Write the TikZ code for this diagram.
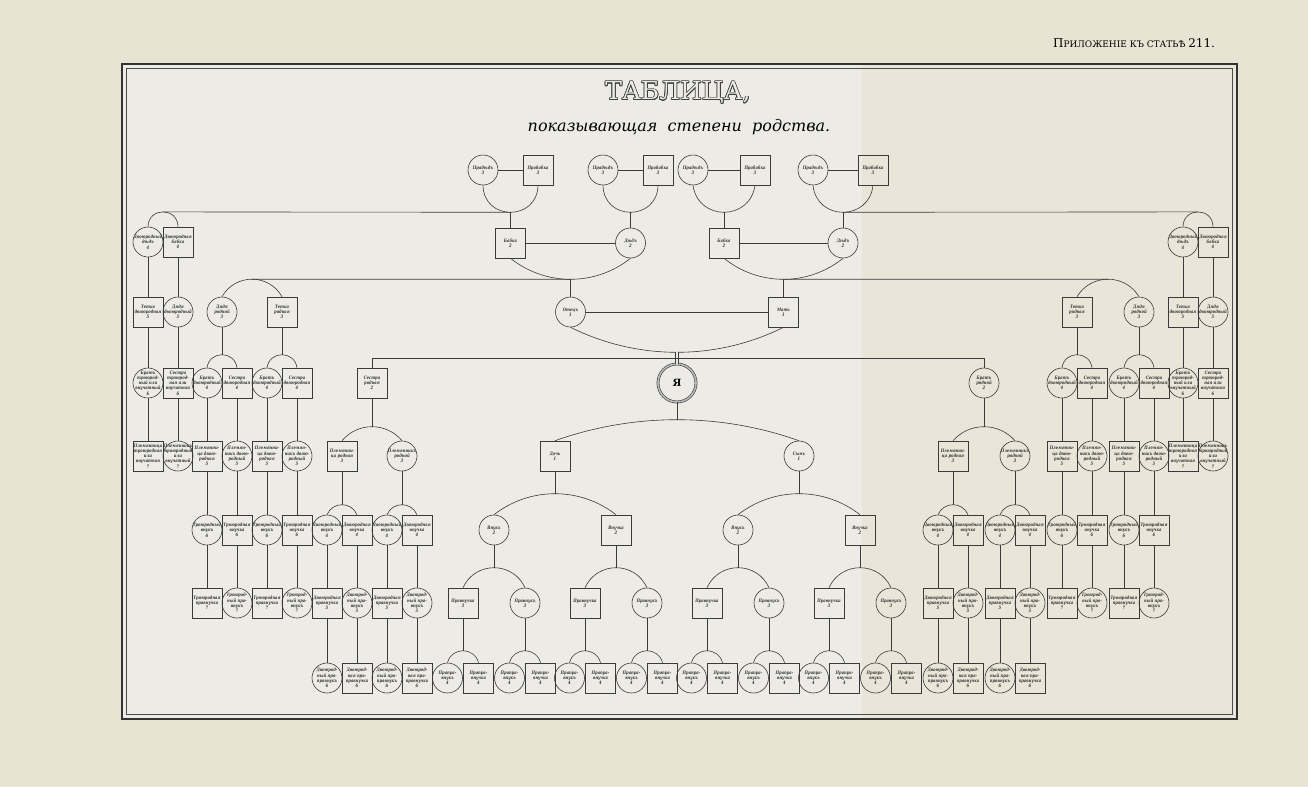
\documentclass[tikz,border=0pt]{standalone}
\usepackage{fontspec}
\setmainfont{DejaVu Serif}
\newfontfamily\kinfam{DejaVu Serif}[FakeStretch=0.8]
\usepackage{tikz}
\usetikzlibrary{calc}
\usepackage{contour}
\contourlength{0.7pt}
\usepackage{xcolor}
\definecolor{paper}{HTML}{E9E3D3}
\definecolor{sheet}{HTML}{ECEBE5}
\definecolor{fold}{HTML}{E9E5D8}
\definecolor{ink}{HTML}{3A3A3A}
\newcommand{\kinfont}{\kinfam\bfseries\itshape\fontsize{4.6}{5.2}\selectfont}

% дуга над двумя узлами, вершина (#4) на высоте #3
\newcommand{\domeup}[4]{%
  \draw[link] let \p1=(#1.north), \p2=(#2.north),
      \n1={veclen(\x2-\x1,\y2-\y1)}, \n2={4*#3/3},
      \n3={\n2*cot(2*atan(2*#3/\n1))} in
    (\p1) .. controls +(\n3,\n2) and +(-\n3,\n2) .. (\p2);
  \coordinate (#4) at ($(#1.north)!0.5!(#2.north)+(0,#3)$);}
% дуга под двумя узлами
\newcommand{\domedown}[4]{%
  \draw[link] let \p1=(#1.south), \p2=(#2.south),
      \n1={veclen(\x2-\x1,\y2-\y1)}, \n2={4*#3/3},
      \n3={\n2*cot(2*atan(2*#3/\n1))} in
    (\p1) .. controls +(\n3,-\n2) and +(-\n3,-\n2) .. (\p2);
  \coordinate (#4) at ($(#1.south)!0.5!(#2.south)-(0,#3)$);}

\begin{document}
\begin{tikzpicture}[x=1pt,y=1pt,
        pm/.style={circle,draw=ink,line width=0.6pt,minimum size=30pt,inner sep=-3pt,align=center,text=black!80,font=\kinfont},
        pf/.style={rectangle,draw=ink,line width=0.6pt,minimum size=30pt,inner sep=0.5pt,align=center,text=black!80,font=\kinfont},
        me/.style={circle,draw=black!75,double=gray!55,double distance=1.6pt,line width=0.6pt,minimum size=38pt,inner sep=0pt,font=\bfseries\fontsize{10}{10}\selectfont},
        link/.style={draw=ink,line width=0.6pt},
        ]

        % Лист и рамка
        \fill[paper] (0,0) rectangle (1308,-787);
        \useasboundingbox (0,0) rectangle (1308,-787);
        \fill[sheet] (122,-64) rectangle (1237,-719);
        \fill[fold] (862,-64) rectangle (1237,-719);
        \draw[line width=2.6pt,draw=black!80] (122,-64) rectangle (1237,-719);
        \draw[line width=0.5pt,draw=black!70] (126.5,-68.5) rectangle (1232.5,-714.5);

        % Заглавие
        \node (app) at (1134,-43) {\fontsize{12}{12}\selectfont П\fontsize{9}{9}\selectfont РИЛОЖЕНІЕ КЪ СТАТЬѢ \fontsize{12}{12}\selectfont 211.};
        \node (title) at (678,-93) {\fontsize{25}{25}\selectfont\color{sheet}\contour{black!75}{ТАБЛИЦА,}};
        \node (subtitle) at (679,-127) {\itshape\fontsize{16}{16}\selectfont показывающая\ \ степени\ \ родства.};

        % Прадѣды
        \node[pm] (ggf1) at (483,-170) {Прадѣдъ\\3};
        \node[pf] (ggm1) at (538,-170) {Прабабка\\3};
        \node[pm] (ggf2) at (603,-170) {Прадѣдъ\\3};
        \node[pf] (ggm2) at (658,-170) {Прабабка\\3};
        \node[pm] (ggf3) at (693,-170) {Прадѣдъ\\3};
        \node[pf] (ggm3) at (755,-170) {Прабабка\\3};
        \node[pm] (ggf4) at (813,-170) {Прадѣдъ\\3};
        \node[pf] (ggm4) at (873,-170) {Прабабка\\3};

        % Дѣды
        \node[pf] (gm1) at (510.5,-243) {Бабка\\2};
        \node[pm] (gf1) at (630.5,-243) {Дѣдъ\\2};
        \node[pf] (gm2) at (724,-243) {Бабка\\2};
        \node[pm] (gf2) at (843,-243) {Дѣдъ\\2};

        % Родители и я
        \node[pm] (father) at (570.5,-312) {Отецъ\\1};
        \node[pf] (mother) at (783.5,-312) {Мать\\1};
        \node[me] (me) at (677,-383) {Я};

        % Лѣвая сторона: двоюродные дѣды
        \node[pm] (gu1) at (148,-242) {Двоюродный\\дѣдъ\\4};
        \node[pf] (ga1) at (178,-242) {Двоюродная\\бабка\\4};
        \node[pf] (au2) at (148,-312) {Тетка\\двоюродная\\5};
        \node[pm] (un2) at (178,-312) {Дядя\\двоюродный\\5};
        \node[pm] (br3) at (148,-383) {Братъ\\троюрод-\\ный или\\внучатный\\6};
        \node[pf] (si3) at (178,-383) {Сестра\\троюрод-\\ная или\\внучатная\\6};
        \node[pf] (nf3) at (148,-456) {Племянница\\троюродная\\или\\внучатная\\7};
        \node[pm] (nm3) at (178,-456) {Племянникъ\\троюродный\\или\\внучатный\\7};

        % Лѣвая сторона: дядя и тетка родные
        \node[pm] (un1) at (222,-312) {Дядя\\родной\\3};
        \node[pf] (au1) at (282,-312) {Тетка\\родная\\3};
        \node[pm] (cb1) at (207,-383) {Братъ\\двоюродный\\4};
        \node[pf] (cs1) at (237,-383) {Сестра\\двоюродная\\4};
        \node[pm] (cb2) at (267,-383) {Братъ\\двоюродный\\4};
        \node[pf] (cs2) at (297,-383) {Сестра\\двоюродная\\4};
        \node[pf] (nf1) at (207,-456) {Племянни-\\ца двою-\\родная\\5};
        \node[pm] (nm1) at (237,-456) {Племян-\\никъ двою-\\родный\\5};
        \node[pf] (nf2) at (267,-456) {Племянни-\\ца двою-\\родная\\5};
        \node[pm] (nm2) at (297,-456) {Племян-\\никъ двою-\\родный\\5};
        \node[pm] (gb1) at (207,-530) {Троюродный\\внукъ\\6};
        \node[pf] (gs1) at (237,-530) {Троюродная\\внучка\\6};
        \node[pm] (gb2) at (267,-530) {Троюродный\\внукъ\\6};
        \node[pf] (gs2) at (297,-530) {Троюродная\\внучка\\6};
        \node[pf] (tpf1) at (207,-603) {Троюродная\\правнучка\\7};
        \node[pm] (tpm1) at (237,-603) {Троюрод-\\ный пра-\\внукъ\\7};
        \node[pf] (tpf2) at (267,-603) {Троюродная\\правнучка\\7};
        \node[pm] (tpm2) at (297,-603) {Троюрод-\\ный пра-\\внукъ\\7};

        % Сестра родная
        \node[pf] (sis) at (372,-383) {Сестра\\родная\\2};
        \node[pf] (snf) at (342,-456) {Племянни-\\ца родная\\3};
        \node[pm] (snm) at (402,-456) {Племянникъ\\родной\\3};
        \node[pm] (sgb1) at (327,-530) {Двоюродный\\внукъ\\4};
        \node[pf] (sgs1) at (357,-530) {Двоюродная\\внучка\\4};
        \node[pm] (sgb2) at (387,-530) {Двоюродный\\внукъ\\4};
        \node[pf] (sgs2) at (417,-530) {Двоюродная\\внучка\\4};
        \node[pf] (spf1) at (327,-603) {Двоюродная\\правнучка\\5};
        \node[pm] (spm1) at (357,-603) {Двоюрод-\\ный пра-\\внукъ\\5};
        \node[pf] (spf2) at (387,-603) {Двоюродная\\правнучка\\5};
        \node[pm] (spm2) at (417,-603) {Двоюрод-\\ный пра-\\внукъ\\5};
        \node[pm] (sqb1) at (327,-678) {Двоюрод-\\ный пра-\\правнукъ\\6};
        \node[pf] (sqs1) at (357,-678) {Двоюрод-\\ная пра-\\правнучка\\6};
        \node[pm] (sqb2) at (387,-678) {Двоюрод-\\ный пра-\\правнукъ\\6};
        \node[pf] (sqs2) at (417,-678) {Двоюрод-\\ная пра-\\правнучка\\6};

        % Дѣти
        \node[pf] (daughter) at (555,-456) {Дочь\\1};
        \node[pm] (son) at (799,-456) {Сынъ\\1};
        \node[pm] (vnuk1) at (494,-530) {Внукъ\\2};
        \node[pf] (vnuchka1) at (616,-530) {Внучка\\2};
        \node[pm] (vnuk2) at (738,-530) {Внукъ\\2};
        \node[pf] (vnuchka2) at (860,-530) {Внучка\\2};
        \node[pf] (pv1) at (463,-603) {Правнучка\\3};
        \node[pm] (pv2) at (525,-603) {Правнукъ\\3};
        \node[pf] (pv3) at (585,-603) {Правнучка\\3};
        \node[pm] (pv4) at (647,-603) {Правнукъ\\3};
        \node[pf] (pv5) at (707,-603) {Правнучка\\3};
        \node[pm] (pv6) at (769,-603) {Правнукъ\\3};
        \node[pf] (pv7) at (829,-603) {Правнучка\\3};
        \node[pm] (pv8) at (891,-603) {Правнукъ\\3};
        \node[pm] (ppm1) at (447.5,-678) {Прапра-\\внукъ\\4};
        \node[pf] (ppf1) at (478.5,-678) {Прапра-\\внучка\\4};
        \node[pm] (ppm2) at (509.5,-678) {Прапра-\\внукъ\\4};
        \node[pf] (ppf2) at (540.5,-678) {Прапра-\\внучка\\4};
        \node[pm] (ppm3) at (569.5,-678) {Прапра-\\внукъ\\4};
        \node[pf] (ppf3) at (600.5,-678) {Прапра-\\внучка\\4};
        \node[pm] (ppm4) at (631.5,-678) {Прапра-\\внукъ\\4};
        \node[pf] (ppf4) at (662.5,-678) {Прапра-\\внучка\\4};
        \node[pm] (ppm5) at (691.5,-678) {Прапра-\\внукъ\\4};
        \node[pf] (ppf5) at (722.5,-678) {Прапра-\\внучка\\4};
        \node[pm] (ppm6) at (753.5,-678) {Прапра-\\внукъ\\4};
        \node[pf] (ppf6) at (784.5,-678) {Прапра-\\внучка\\4};
        \node[pm] (ppm7) at (813.5,-678) {Прапра-\\внукъ\\4};
        \node[pf] (ppf7) at (844.5,-678) {Прапра-\\внучка\\4};
        \node[pm] (ppm8) at (875.5,-678) {Прапра-\\внукъ\\4};
        \node[pf] (ppf8) at (906.5,-678) {Прапра-\\внучка\\4};

        % Братъ родной
        \node[pm] (brother) at (984,-383) {Братъ\\родной\\2};
        \node[pf] (bnf) at (953,-456) {Племянни-\\ца родная\\3};
        \node[pm] (bnm) at (1015,-456) {Племянникъ\\родной\\3};
        \node[pm] (bgb1) at (938,-530) {Двоюродный\\внукъ\\4};
        \node[pf] (bgs1) at (968,-530) {Двоюродная\\внучка\\4};
        \node[pm] (bgb2) at (1000,-530) {Двоюродный\\внукъ\\4};
        \node[pf] (bgs2) at (1030,-530) {Двоюродная\\внучка\\4};
        \node[pf] (bpf1) at (938,-603) {Двоюродная\\правнучка\\5};
        \node[pm] (bpm1) at (968,-603) {Двоюрод-\\ный пра-\\внукъ\\5};
        \node[pf] (bpf2) at (1000,-603) {Двоюродная\\правнучка\\5};
        \node[pm] (bpm2) at (1030,-603) {Двоюрод-\\ный пра-\\внукъ\\5};
        \node[pm] (bqb1) at (938,-678) {Двоюрод-\\ный пра-\\правнукъ\\6};
        \node[pf] (bqs1) at (968,-678) {Двоюрод-\\ная пра-\\правнучка\\6};
        \node[pm] (bqb2) at (1000,-678) {Двоюрод-\\ный пра-\\правнукъ\\6};
        \node[pf] (bqs2) at (1030,-678) {Двоюрод-\\ная пра-\\правнучка\\6};

        % Правая сторона: тетка и дядя родные
        \node[pf] (au1r) at (1077,-312) {Тетка\\родная\\3};
        \node[pm] (un1r) at (1139,-312) {Дядя\\родной\\3};
        \node[pm] (cb1r) at (1062,-383) {Братъ\\двоюродный\\4};
        \node[pf] (cs1r) at (1092,-383) {Сестра\\двоюродная\\4};
        \node[pm] (cb2r) at (1124,-383) {Братъ\\двоюродный\\4};
        \node[pf] (cs2r) at (1154,-383) {Сестра\\двоюродная\\4};
        \node[pf] (nf1r) at (1062,-456) {Племянни-\\ца двою-\\родная\\5};
        \node[pm] (nm1r) at (1092,-456) {Племян-\\никъ двою-\\родный\\5};
        \node[pf] (nf2r) at (1124,-456) {Племянни-\\ца двою-\\родная\\5};
        \node[pm] (nm2r) at (1154,-456) {Племян-\\никъ двою-\\родный\\5};
        \node[pm] (gb1r) at (1062,-530) {Троюродный\\внукъ\\6};
        \node[pf] (gs1r) at (1092,-530) {Троюродная\\внучка\\6};
        \node[pm] (gb2r) at (1124,-530) {Троюродный\\внукъ\\6};
        \node[pf] (gs2r) at (1154,-530) {Троюродная\\внучка\\6};
        \node[pf] (tpf1r) at (1062,-603) {Троюродная\\правнучка\\7};
        \node[pm] (tpm1r) at (1092,-603) {Троюрод-\\ный пра-\\внукъ\\7};
        \node[pf] (tpf2r) at (1124,-603) {Троюродная\\правнучка\\7};
        \node[pm] (tpm2r) at (1154,-603) {Троюрод-\\ный пра-\\внукъ\\7};

        % Правая сторона: двоюродные дѣды
        \node[pm] (gu1r) at (1183,-242) {Двоюродный\\дѣдъ\\4};
        \node[pf] (ga1r) at (1213,-242) {Двоюродная\\бабка\\4};
        \node[pf] (au2r) at (1183,-312) {Тетка\\двоюродная\\5};
        \node[pm] (un2r) at (1213,-312) {Дядя\\двоюродный\\5};
        \node[pm] (br3r) at (1183,-383) {Братъ\\троюрод-\\ный или\\внучатный\\6};
        \node[pf] (si3r) at (1213,-383) {Сестра\\троюрод-\\ная или\\внучатная\\6};
        \node[pf] (nf3r) at (1183,-456) {Племянница\\троюродная\\или\\внучатная\\7};
        \node[pm] (nm3r) at (1213,-456) {Племянникъ\\троюродный\\или\\внучатный\\7};

        % Связи: прадѣды
        \draw[link] (ggf1) -- (ggm1);
        \draw[link] (ggf2) -- (ggm2);
        \draw[link] (ggf3) -- (ggm3);
        \draw[link] (ggf4) -- (ggm4);
        \domedown{ggf1}{ggm1}{27pt}{jgg1}
        \domedown{ggf2}{ggm2}{27pt}{jgg2}
        \domedown{ggf3}{ggm3}{27pt}{jgg3}
        \domedown{ggf4}{ggm4}{27pt}{jgg4}
        \draw[link] (jgg1) -- (gm1);
        \draw[link] (jgg2) -- (gf1);
        \draw[link] (jgg3) -- (gm2);
        \draw[link] (jgg4) -- (gf2);

        % Связи: двоюродные дѣды
        \domeup{gu1}{ga1}{14.8pt}{jgu}
        \draw[link] (jgg1) -- (jgu);
        \draw[link] (gu1) -- (au2);
        \draw[link] (ga1) -- (un2);
        \draw[link] (au2) -- (br3);
        \draw[link] (un2) -- (si3);
        \draw[link] (br3) -- (nf3);
        \draw[link] (si3) -- (nm3);
        \domeup{gu1r}{ga1r}{14.8pt}{jgur}
        \draw[link] (jgg4) -- (jgur);
        \draw[link] (gu1r) -- (au2r);
        \draw[link] (ga1r) -- (un2r);
        \draw[link] (au2r) -- (br3r);
        \draw[link] (un2r) -- (si3r);
        \draw[link] (br3r) -- (nf3r);
        \draw[link] (si3r) -- (nm3r);

        % Связи: дѣды и родители
        \draw[link] (gm1) -- (gf1);
        \draw[link] (gm2) -- (gf2);
        \domedown{gm1}{gf1}{21pt}{jg1}
        \domedown{gm2}{gf2}{21pt}{jg2}
        \draw[link] (jg1) -- (father);
        \draw[link] (jg2) -- (mother);
        \domeup{un1}{au1}{17.5pt}{jun}
        \draw[link] (jg1) -- (jun);
        \domeup{au1r}{un1r}{17.5pt}{junr}
        \draw[link] (jg2) -- (junr);

        % Связи: дяди и тетки родные (слѣва)
        \domeup{cb1}{cs1}{13pt}{jc1}
        \domeup{cb2}{cs2}{13pt}{jc2}
        \draw[link] (un1) -- (jc1);
        \draw[link] (au1) -- (jc2);
        \draw[link] (cb1) -- (nf1);
        \draw[link] (cs1) -- (nm1);
        \draw[link] (cb2) -- (nf2);
        \draw[link] (cs2) -- (nm2);
        \draw[link] (nf1) -- (gb1);
        \draw[link] (nm1) -- (gs1);
        \draw[link] (nf2) -- (gb2);
        \draw[link] (nm2) -- (gs2);
        \draw[link] (gb1) -- (tpf1);
        \draw[link] (gs1) -- (tpm1);
        \draw[link] (gb2) -- (tpf2);
        \draw[link] (gs2) -- (tpm2);

        % Связи: тетка и дядя родные (справа)
        \domeup{cb1r}{cs1r}{13pt}{jc1r}
        \domeup{cb2r}{cs2r}{13pt}{jc2r}
        \draw[link] (au1r) -- (jc1r);
        \draw[link] (un1r) -- (jc2r);
        \draw[link] (cb1r) -- (nf1r);
        \draw[link] (cs1r) -- (nm1r);
        \draw[link] (cb2r) -- (nf2r);
        \draw[link] (cs2r) -- (nm2r);
        \draw[link] (nf1r) -- (gb1r);
        \draw[link] (nm1r) -- (gs1r);
        \draw[link] (nf2r) -- (gb2r);
        \draw[link] (nm2r) -- (gs2r);
        \draw[link] (gb1r) -- (tpf1r);
        \draw[link] (gs1r) -- (tpm1r);
        \draw[link] (gb2r) -- (tpf2r);
        \draw[link] (gs2r) -- (tpm2r);

        % Связи: родители, я, братъ и сестра
        \draw[link] (father) -- (mother);
        \domedown{father}{mother}{25pt}{jpar}
        \draw[link,double=sheet,double distance=2.4pt] (jpar) -- (me);
        \coordinate (sibl) at (372,-358);
        \coordinate (sibr) at (984,-358);
        \draw[link] (sis) -- (sibl) -- (sibr) -- (brother);

        % Связи: потомство сестры
        \domeup{snf}{snm}{14pt}{jsn}
        \draw[link] (sis) -- (jsn);
        \domeup{sgb1}{sgs1}{10pt}{jsg1}
        \domeup{sgb2}{sgs2}{10pt}{jsg2}
        \draw[link] (snf) -- (jsg1);
        \draw[link] (snm) -- (jsg2);
        \draw[link] (sgb1) -- (spf1);
        \draw[link] (sgs1) -- (spm1);
        \draw[link] (sgb2) -- (spf2);
        \draw[link] (sgs2) -- (spm2);
        \draw[link] (spf1) -- (sqb1);
        \draw[link] (spm1) -- (sqs1);
        \draw[link] (spf2) -- (sqb2);
        \draw[link] (spm2) -- (sqs2);

        % Связи: потомство брата
        \domeup{bnf}{bnm}{14pt}{jbn}
        \draw[link] (brother) -- (jbn);
        \domeup{bgb1}{bgs1}{10pt}{jbg1}
        \domeup{bgb2}{bgs2}{10pt}{jbg2}
        \draw[link] (bnf) -- (jbg1);
        \draw[link] (bnm) -- (jbg2);
        \draw[link] (bgb1) -- (bpf1);
        \draw[link] (bgs1) -- (bpm1);
        \draw[link] (bgb2) -- (bpf2);
        \draw[link] (bgs2) -- (bpm2);
        \draw[link] (bpf1) -- (bqb1);
        \draw[link] (bpm1) -- (bqs1);
        \draw[link] (bpf2) -- (bqb2);
        \draw[link] (bpm2) -- (bqs2);

        % Связи: дѣти, внуки, правнуки
        \domeup{daughter}{son}{21pt}{jch}
        \draw[link] (me) -- (jch);
        \domeup{vnuk1}{vnuchka1}{21pt}{jd}
        \domeup{vnuk2}{vnuchka2}{21pt}{js}
        \draw[link] (daughter) -- (jd);
        \draw[link] (son) -- (js);
        \domeup{pv1}{pv2}{20pt}{jv1}
        \domeup{pv3}{pv4}{20pt}{jv2}
        \domeup{pv5}{pv6}{20pt}{jv3}
        \domeup{pv7}{pv8}{20pt}{jv4}
        \draw[link] (vnuk1) -- (jv1);
        \draw[link] (vnuchka1) -- (jv2);
        \draw[link] (vnuk2) -- (jv3);
        \draw[link] (vnuchka2) -- (jv4);
        \domeup{ppm1}{ppf1}{12pt}{jp1}
        \domeup{ppm2}{ppf2}{12pt}{jp2}
        \domeup{ppm3}{ppf3}{12pt}{jp3}
        \domeup{ppm4}{ppf4}{12pt}{jp4}
        \domeup{ppm5}{ppf5}{12pt}{jp5}
        \domeup{ppm6}{ppf6}{12pt}{jp6}
        \domeup{ppm7}{ppf7}{12pt}{jp7}
        \domeup{ppm8}{ppf8}{12pt}{jp8}
        \draw[link] (pv1) -- (jp1);
        \draw[link] (pv2) -- (jp2);
        \draw[link] (pv3) -- (jp3);
        \draw[link] (pv4) -- (jp4);
        \draw[link] (pv5) -- (jp5);
        \draw[link] (pv6) -- (jp6);
        \draw[link] (pv7) -- (jp7);
        \draw[link] (pv8) -- (jp8);
    \end{tikzpicture}
\end{document}
